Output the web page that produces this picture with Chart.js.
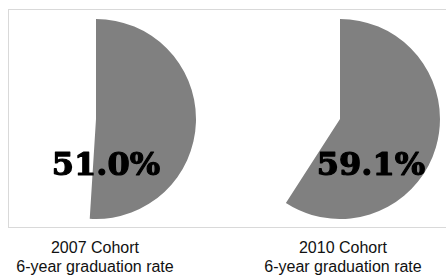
<!DOCTYPE html>
<html>
<head>
<meta charset="utf-8">
<script src="https://cdn.jsdelivr.net/npm/chart.js@4/dist/chart.umd.min.js"></script>
<style>
  html, body { margin: 0; padding: 0; background: #fff; }
  body { width: 446px; height: 278px; position: relative; overflow: hidden; }
  .frame {
    position: absolute; left: 8px; top: 9px; width: 460px; height: 219px;
    border: 1px solid #d9d9d9; box-sizing: border-box;
  }
  .pie { position: absolute; top: 19px; width: 200px; height: 200px; }
  .label {
    position: absolute; top: 238px; width: 220px; margin-left: -110px;
    text-align: center; font: 16px "Liberation Sans", Arial, Helvetica, sans-serif;
    line-height: 19px; color: #111;
  }
</style>
</head>
<body>
<div class="frame"></div>
<canvas id="pie1" class="pie" style="left:-4px"></canvas>
<canvas id="pie2" class="pie" style="left:240px"></canvas>
<div class="label" style="left:95px">2007 Cohort<br>6-year graduation rate</div>
<div class="label" style="left:343px">2010 Cohort<br>6-year graduation rate</div>
<script>
(() => {
  'use strict'

  const cohorts = ['2007 Cohort', '2010 Cohort']
  const gradRates = [51.0, 59.1]
  // where the big % text sits, relative to each pie centre
  const textOffsets = [[10, 47.5], [31, 47.5]]

  const bigText = {
    id: 'bigText',
    afterDraw (chart, args, opts) {
      const { ctx, chartArea } = chart
      const cx = (chartArea.left + chartArea.right) / 2
      const cy = (chartArea.top + chartArea.bottom) / 2
      ctx.save()
      ctx.font = 'bold 32px "DejaVu Serif", Georgia, serif'
      ctx.fillStyle = '#000'
      ctx.strokeStyle = '#000'
      ctx.lineWidth = 1.2
      ctx.lineJoin = 'round'
      ctx.textAlign = 'center'
      ctx.textBaseline = 'middle'
      ctx.fillText(opts.text, cx + opts.dx, cy + opts.dy)
      ctx.strokeText(opts.text, cx + opts.dx, cy + opts.dy)
      ctx.restore()
    }
  }

  cohorts.forEach((name, i) => {
    const ctx = document.getElementById('pie' + (i + 1))
    // eslint-disable-next-line no-new
    new Chart(ctx, {
      type: 'pie',
      data: {
        labels: ['Graduated', 'Not graduated'],
        datasets: [
          {
            label: name,
            data: [gradRates[i], 100 - gradRates[i]],
            backgroundColor: ['#808080', 'rgba(0,0,0,0)'],
            borderWidth: 0,
            hoverOffset: 0,
            offset: 0
          }
        ]
      },
      options: {
        responsive: false,
        animation: false,
        events: [],
        layout: { padding: 0 },
        plugins: {
          legend: { display: false },
          tooltip: { enabled: false },
          bigText: {
            text: gradRates[i].toFixed(1) + '%',
            dx: textOffsets[i][0],
            dy: textOffsets[i][1]
          }
        }
      },
      plugins: [bigText]
    })
  })
})()
</script>
</body>
</html>
